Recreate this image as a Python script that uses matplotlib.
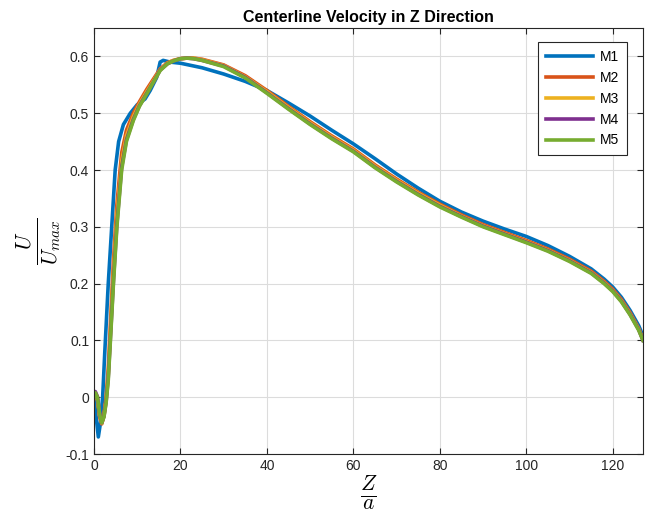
import matplotlib
matplotlib.use("Agg")
import matplotlib.pyplot as plt

plt.rcParams["font.family"] = ["Liberation Sans", "DejaVu Sans"]
plt.rcParams["mathtext.fontset"] = "cm"

# Centerline velocity data
z_m1 = [0, 0.5, 1.0, 1.5, 2.0, 2.5, 3.3, 4.1, 4.9, 5.7, 6.8, 8.4, 10.0, 11.8, 13.0, 14.5,
        15.3, 16.0, 17.6, 20, 25, 30, 35, 40, 45, 50, 55, 60, 65, 70, 75, 80,
        85, 90, 95, 100, 105, 110, 115, 118, 120, 122, 124, 126, 127]
m1 = [0.0, -0.035, -0.07, -0.045, 0.0, 0.08, 0.2, 0.3, 0.4, 0.45, 0.48, 0.5, 0.515, 0.525, 0.54, 0.563,
      0.59, 0.593, 0.59, 0.588, 0.58, 0.569, 0.556, 0.54, 0.518, 0.495, 0.47, 0.446, 0.42, 0.393, 0.368, 0.345,
      0.326, 0.31, 0.296, 0.283, 0.267, 0.248, 0.226, 0.208, 0.194, 0.176, 0.153, 0.126, 0.108]

z_m = [0, 0.3, 0.8, 1.3, 1.8, 2.3, 2.8, 3.3, 3.8, 4.5, 5.3, 6.4, 7.5, 9.1, 10.5, 12.2,
       14, 15.3, 17, 18.4, 20, 21.5, 23, 25, 30, 35, 40, 45, 50, 55, 60, 65,
       70, 75, 80, 85, 90, 95, 100, 105, 110, 115, 118, 120, 122, 124, 126, 127]
m2 = [0.0, 0.006, -0.005, -0.035, -0.047, -0.03, 0.0, 0.05, 0.13, 0.24, 0.34, 0.43, 0.47, 0.5, 0.52, 0.542,
      0.563, 0.578, 0.589, 0.593, 0.596, 0.597, 0.597, 0.595, 0.585, 0.566, 0.54, 0.512, 0.485, 0.46, 0.437, 0.409,
      0.384, 0.361, 0.34, 0.321, 0.304, 0.29, 0.276, 0.261, 0.243, 0.222, 0.204, 0.19, 0.172, 0.149, 0.121, 0.102]
m3 = [0.0, 0.007, -0.003, -0.032, -0.046, -0.033, -0.005, 0.04, 0.115, 0.22, 0.32, 0.415, 0.46, 0.494, 0.516, 0.538,
      0.56, 0.577, 0.588, 0.593, 0.596, 0.597, 0.597, 0.594, 0.584, 0.564, 0.538, 0.51, 0.483, 0.458, 0.435, 0.407,
      0.382, 0.359, 0.338, 0.319, 0.302, 0.288, 0.274, 0.259, 0.241, 0.22, 0.202, 0.188, 0.17, 0.147, 0.12, 0.101]
m4 = [0.0, 0.01, 0.001, -0.03, -0.045, -0.034, -0.008, 0.035, 0.105, 0.205, 0.305, 0.405, 0.453, 0.489, 0.513, 0.535,
      0.558, 0.576, 0.587, 0.592, 0.596, 0.597, 0.596, 0.593, 0.583, 0.563, 0.536, 0.508, 0.481, 0.456, 0.433, 0.405,
      0.38, 0.357, 0.336, 0.318, 0.301, 0.287, 0.273, 0.258, 0.24, 0.219, 0.201, 0.187, 0.169, 0.146, 0.119, 0.1]
m5 = [0.0, 0.008, 0.0, -0.03, -0.045, -0.035, -0.01, 0.03, 0.1, 0.2, 0.3, 0.4, 0.45, 0.487, 0.512, 0.534,
      0.558, 0.575, 0.587, 0.592, 0.596, 0.597, 0.596, 0.593, 0.582, 0.562, 0.535, 0.507, 0.48, 0.455, 0.432, 0.404,
      0.379, 0.356, 0.335, 0.317, 0.3, 0.286, 0.272, 0.257, 0.239, 0.218, 0.2, 0.186, 0.168, 0.145, 0.118, 0.1]

labels = ["M1", "M2", "M3", "M4", "M5"]
colors = ["#0072BD", "#D95319", "#EDB120", "#7E2F8E", "#77AC30"]
x_ticks = [0, 20, 40, 60, 80, 100, 120]
y_ticks = [-0.1, 0, 0.1, 0.2, 0.3, 0.4, 0.5, 0.6]
y_tick_labels = ["-0.1", "0", "0.1", "0.2", "0.3", "0.4", "0.5", "0.6"]

fig = plt.figure(figsize=(6.47, 5.24), dpi=100)
ax = fig.add_axes([94 / 647, 70 / 524, 549 / 647, 426 / 524])

series = [(z_m1, m1), (z_m, m2), (z_m, m3), (z_m, m4), (z_m, m5)]
for (z, v), lab, col in zip(series, labels, colors):
    ax.plot(z, v, color=col, linewidth=2.6, label=lab, solid_joinstyle="round")

ax.set_xlim(0, 127)
ax.set_ylim(-0.1, 0.65)
ax.set_xticks(x_ticks)
ax.set_yticks(y_ticks)
ax.set_yticklabels(y_tick_labels)

# MATLAB-like look
ax.grid(True, color="#dcdcdc", linewidth=0.8)
ax.set_axisbelow(True)
for s in ax.spines.values():
    s.set_color("#262626")
    s.set_linewidth(0.8)
ax.tick_params(direction="in", top=True, right=True, length=4, width=0.8,
               colors="#262626", labelsize=10, labelcolor="#262626")

ax.set_title("Centerline Velocity in Z Direction", fontsize=11.5, fontweight="bold", pad=4)
ax.set_xlabel(r"$\frac{Z}{a}$", fontsize=22, labelpad=0)
ax.set_ylabel(r"$\frac{U}{U_{max}}$", fontsize=22, labelpad=2)

leg = ax.legend(loc="upper right", bbox_to_anchor=(0.971, 0.967), borderaxespad=0,
                fontsize=10, fancybox=False, edgecolor="#262626", framealpha=1,
                handlelength=3.4, borderpad=0.55, labelspacing=0.5, handletextpad=0.5)
leg.get_frame().set_linewidth(0.8)

fig.savefig("out.png", dpi=100)
